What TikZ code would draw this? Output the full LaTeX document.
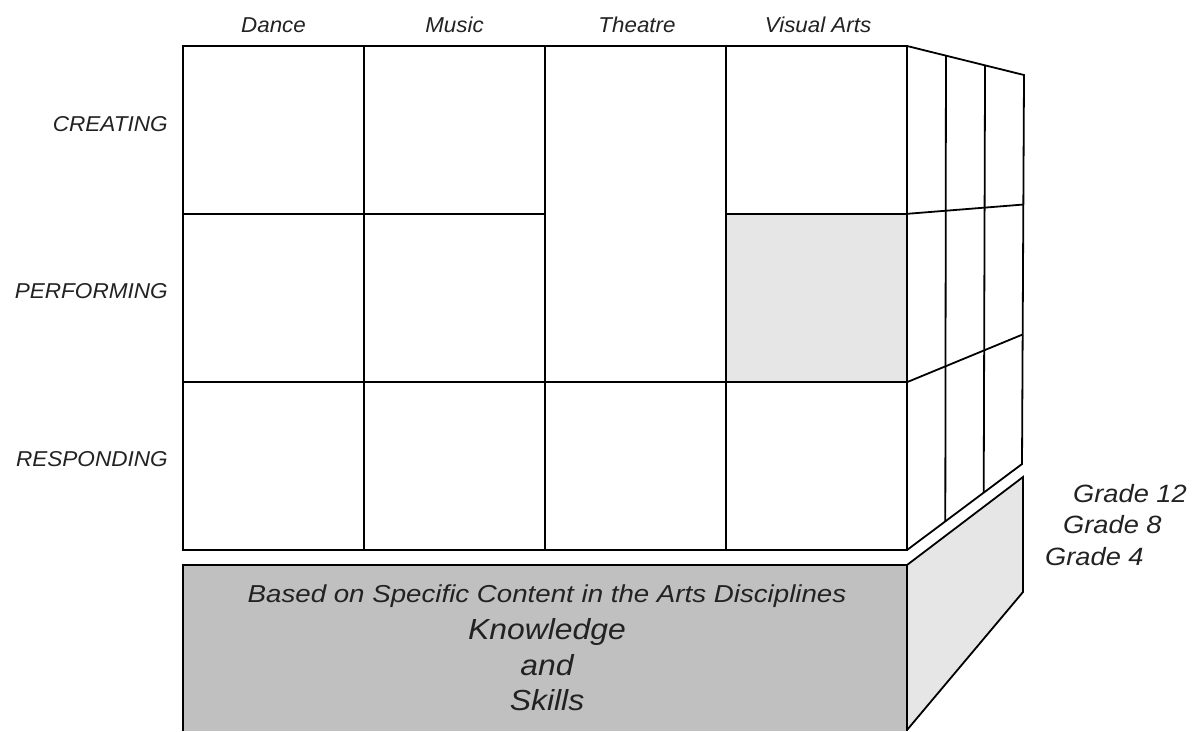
\documentclass[tikz,border=0pt]{standalone}
\usepackage{fontspec}
\usepackage{graphicx}
\setmainfont{Liberation Sans}
\usetikzlibrary{calc}
\definecolor{txt}{HTML}{222222}
\definecolor{lightcell}{HTML}{E6E6E6}
\definecolor{basefront}{HTML}{C0C0C0}
\newcommand{\sx}[2]{\scalebox{#1}[1]{#2}}
\begin{document}
\begin{tikzpicture}[x=1pt,y=-1pt,
  gridline/.style={line width=1.8pt,line join=miter},
  lab/.style={inner sep=0pt,text=txt,font=\itshape\fontsize{21.5}{26}\selectfont},
  gradelab/.style={inner sep=0pt,text=txt,anchor=base west,font=\itshape\fontsize{25}{30}\selectfont},
  basesmall/.style={inner sep=0pt,text=txt,anchor=base,font=\itshape\fontsize{24.5}{30}\selectfont},
  basebig/.style={inner sep=0pt,text=txt,anchor=base,font=\itshape\fontsize{29}{34}\selectfont}]
\useasboundingbox (0,0) rectangle (1201,731);
% corner coordinates
\coordinate (FTL) at (183,46);
\coordinate (FTR) at (907,46);
\coordinate (FBL) at (183,550);
\coordinate (FBR) at (907,550);
\coordinate (STR) at (1024,75);
\coordinate (SBR) at (1022,464);
% shaded cell
\fill[lightcell] (726,214) rectangle (907,382);
% front grid
\draw[gridline] (FTL) rectangle (FBR);
\foreach \x in {364,545,726} \draw[gridline] (\x,46) -- (\x,550);
\draw[gridline] (183,214) -- (545,214);
\draw[gridline] (726,214) -- (907,214);
\draw[gridline] (183,382) -- (907,382);
% side face
\draw[gridline] (FTR) -- (STR) -- (SBR) -- (FBR);
\foreach \t in {0.333,0.667} {
  \draw[gridline] ($(FTR)!\t!(STR)$) -- ($(FBR)!\t!(SBR)$);
  \draw[gridline] ($(FTR)!\t!(FBR)$) -- ($(STR)!\t!(SBR)$);
}
% base slab
\coordinate (BTL) at (183,565);
\coordinate (BTR) at (907,565);
\coordinate (BST) at (1023,477);
\coordinate (BSB) at (1023,592);
\coordinate (BBR) at (907,730);
\fill[basefront] (183,565) rectangle (907,731);
\fill[lightcell] (BTR) -- (BST) -- (BSB) -- (BBR) -- cycle;
\draw[gridline] (183,731) -- (BTL) -- (BTR) -- (907,731);
\draw[gridline] (BTR) -- (BST) -- (BSB) -- (BBR);
% headers
\node[lab,anchor=base] (hd) at (273.5,32) {\sx{1.04}{Dance}};
\node[lab,anchor=base] (hm) at (454.5,32) {\sx{1.04}{Music}};
\node[lab,anchor=base] (ht) at (637,32) {\sx{1.04}{Theatre}};
\node[lab,anchor=base] (hv) at (818,32) {\sx{1.04}{Visual Arts}};
% row labels
\node[lab,anchor=base east] (rc) at (168,131) {\sx{1.05}{CREATING}};
\node[lab,anchor=base east] (rp) at (168,298) {\sx{1.05}{PERFORMING}};
\node[lab,anchor=base east] (rr) at (168,466) {\sx{1.05}{RESPONDING}};
% grades
\node[gradelab] (g12) at (1073,502) {\sx{1.09}{Grade 12}};
\node[gradelab] (g8) at (1063,533) {\sx{1.09}{Grade 8}};
\node[gradelab] (g4) at (1045,565) {\sx{1.09}{Grade 4}};
% base texts
\node[basesmall] (b1) at (547,602) {\sx{1.13}{Based on Specific Content in the Arts Disciplines}};
\node[basebig] (b2) at (547,639) {\sx{1.1}{Knowledge}};
\node[basebig] (b3) at (547,675) {\sx{1.1}{and}};
\node[basebig] (b4) at (547,710) {\sx{1.1}{Skills}};
\end{tikzpicture}
\end{document}
